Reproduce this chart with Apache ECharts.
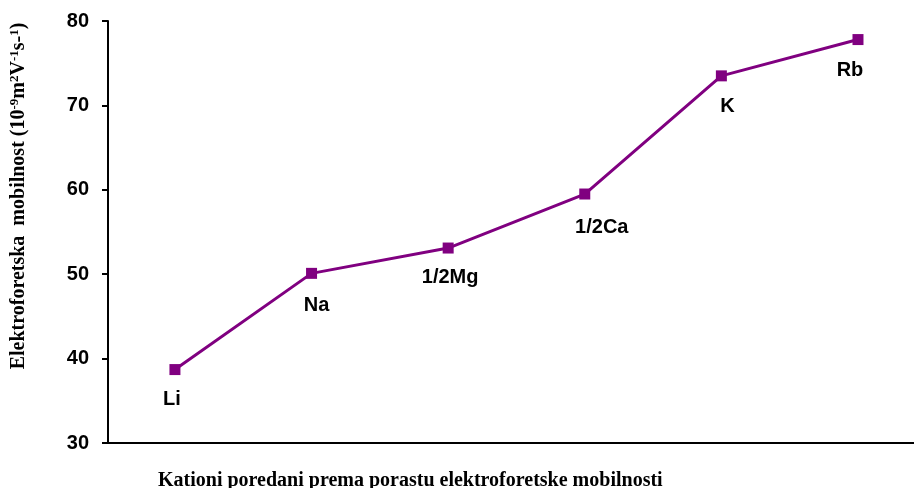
<!DOCTYPE html>
<html><head><meta charset="utf-8">
<script src="https://cdn.jsdelivr.net/npm/echarts@6/dist/echarts.min.js"></script>
<style>html,body{margin:0;padding:0;background:#fff}#c{width:914px;height:488px}</style>
</head><body><div id="c"></div>
<script>
const categories = ["Li", "Na", "1/2Mg", "1/2Ca", "K", "Rb"];
const mobility = [38.7, 50.1, 53.1, 59.5, 73.5, 77.8];
const yTicks = [30, 40, 50, 60, 70, 80];

// label nudges (styling only)
const labelShift = [[-3, -1], [5, 2], [2, -1], [17, 3], [6, 0], [-8, 0]];

const chart = echarts.init(document.getElementById('c'));
chart.setOption({
  animation: false,
  grid: { left: 107, top: 21, right: 0, height: 422 },
  title: {
    text: 'Kationi poredani prema porastu elektroforetske mobilnosti',
    left: 153, top: 466,
    textStyle: { fontFamily: 'Liberation Serif', fontWeight: 'bold', fontSize: 20, color: '#000' }
  },
  xAxis: {
    type: 'value',
    min: -0.49, max: categories.length - 0.59,
    splitLine: { show: false },
    axisLine: { show: true, onZero: false, lineStyle: { color: '#000', width: 2 } },
    axisTick: { show: false },
    axisLabel: { show: false }
  },
  yAxis: {
    type: 'value',
    min: yTicks[0], max: yTicks[yTicks.length - 1], interval: 10,
    splitLine: { show: false },
    axisLine: { show: true, onZero: false, lineStyle: { color: '#000', width: 2 } },
    axisTick: { show: true, length: 6, lineStyle: { color: '#000', width: 2 } },
    axisLabel: { margin: 19, fontFamily: 'Liberation Sans', fontWeight: 'bold', fontSize: 20, color: '#000' },
    name: '{n|Elektroforetska  mobilnost (10}{s|-9}{n|m}{s|2}{n|V}{s|-1}{n|s-}{s|1}{n|)}',
    nameLocation: 'middle',
    nameGap: 78,
    nameRotate: 90,
    nameTextStyle: {
      padding: [0, 0, 0, 72],
      rich: {
        n: { fontFamily: 'Liberation Serif', fontWeight: 'bold', fontSize: 20, color: '#000' },
        s: { fontFamily: 'Liberation Serif', fontWeight: 'bold', fontSize: 13, color: '#000', verticalAlign: 'top', padding: [0, 0, 9, 0] }
      }
    }
  },
  series: [{
    type: 'line',
    data: mobility.map((v, i) => ({
      value: [i, v],
      label: { offset: labelShift[i] }
    })),
    symbol: 'rect',
    symbolSize: 11,
    lineStyle: { color: '#800080', width: 3 },
    itemStyle: { color: '#800080' },
    label: {
      show: true,
      position: 'bottom',
      distance: 15,
      formatter: p => categories[p.dataIndex],
      fontFamily: 'Liberation Sans', fontWeight: 'bold', fontSize: 20, color: '#000'
    }
  }]
});
</script></body></html>
